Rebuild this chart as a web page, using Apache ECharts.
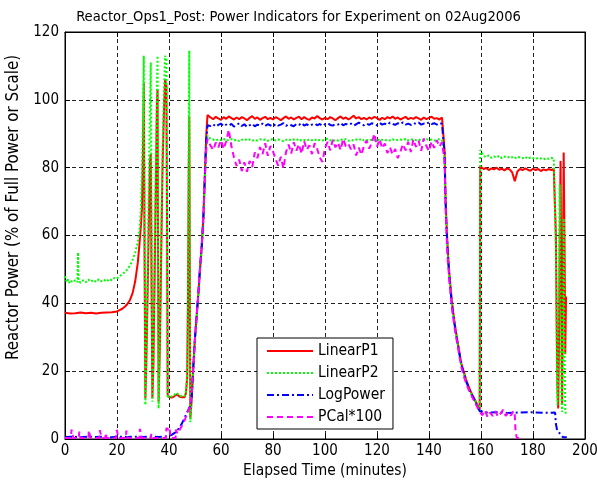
<!DOCTYPE html>
<html>
<head>
<meta charset="utf-8">
<script src="https://cdn.jsdelivr.net/npm/echarts@6/dist/echarts.min.js"></script>
<style>
html,body{margin:0;padding:0;background:#fff;}
#chart{width:597px;height:486px;}
</style>
</head>
<body>
<div id="chart"></div>
<script>
// ---------------- DATA ----------------
const titleText = "Reactor_Ops1_Post: Power Indicators for Experiment on 02Aug2006";
const xName = "Elapsed Time (minutes)";
const yName = "Reactor Power (% of Full Power or Scale)";
const seriesNames = ["LinearP1", "LinearP2", "LogPower", "PCal*100"];
const xTicks = [0, 20, 40, 60, 80, 100, 120, 140, 160, 180, 200];
const yTicks = [0, 20, 40, 60, 80, 100, 120];

// start-up + oscillation period (minutes, value)
const p1Early = [[0,37.2],[2,37.0],[4,37.1],[6,37.3],[8,37.1],[10,37.2],[12,37.0],[14,37.2],[16,37.3],[18,37.4],[20,37.6],[21,38],[22,38.4],[23,39],[24,39.8],[25,41],[26,43],[27,46.5],[28,52],[28.7,58],[29.2,63],[29.6,68],[30,85],[30.3,105],[30.6,55],[30.9,12],[31.2,20],[31.7,40],[32.2,62],[32.7,82],[33,84],[33.3,45],[33.6,12],[34,22],[34.5,50],[35,78],[35.4,100],[35.6,103],[35.8,55],[36,11],[36.5,28],[37,55],[37.5,80],[38,95],[38.5,106],[39,104],[39.3,55],[39.5,13],[40,12.4],[41,12.2],[42,12.6],[43,13.2],[44,12.5],[45,12.3],[46,12.3],[46.5,13.5],[47,18],[47.3,40],[47.6,80],[47.8,95],[48,45],[48.2,6],[48.7,11.5],[49.4,22],[50,30],[50.6,36],[51.3,43],[51.9,50],[52.6,57],[53.2,65],[53.8,78],[54.3,89],[54.8,95.5],[55,95.2]];
const p2Early = [[0,48],[0.5,46.5],[1,47.2],[1.5,46],[2,46.8],[3,46.2],[4,46.9],[4.8,46.3],[5,55],[5.2,46.5],[6,46.1],[7,46.8],[8,46.2],[9,47],[10,46.4],[11,46.9],[12,46.3],[13,47.1],[14,46.5],[15,46.9],[16,46.4],[17,47.2],[18,46.8],[19,47.5],[20,47.3],[21,48],[22,48.6],[23,49.2],[24,50],[25,51.2],[26,52.8],[27,55],[28,58],[28.7,62],[29.2,68],[29.6,78],[30,95],[30.3,113],[30.6,60],[30.9,10],[31.2,20],[31.7,45],[32.2,75],[32.7,100],[33,111],[33.3,60],[33.6,11],[34,25],[34.5,55],[35,85],[35.4,105],[35.6,113],[35.8,60],[36,9],[36.5,30],[37,60],[37.5,85],[38,100],[38.5,113],[39,112],[39.3,60],[39.5,12],[40,12.8],[41,12.5],[42,13],[43,13.6],[44,12.8],[45,12.6],[46,12.7],[46.5,14],[47,19],[47.3,45],[47.6,90],[47.8,114.5],[48,50],[48.2,5],[48.7,11],[49.4,21],[50,29],[50.6,35],[51.3,42],[51.9,49],[52.6,56],[53.2,64],[53.8,76],[54.3,86],[54.8,89.5],[55,88.8]];
const logEarly = [[0,0.6],[3,0.7],[6,0.5],[9,0.7],[12,0.6],[15,0.7],[18,0.5],[21,0.7],[24,0.6],[27,0.7],[30,0.6],[33,0.7],[36,0.6],[39,0.8],[41,1.2],[43,2.2],[45,4.6],[46.8,7.6],[48,9.5],[48.7,11.5],[49.4,22],[50,30],[50.6,36],[51.3,43],[51.9,50],[52.6,57],[53.2,65],[53.8,78],[54.3,88],[54.8,92.5],[55,92.8]];
const pcalEarly = [[0,0.3],[2.3,0.3],[2.5,2.8],[3,2.5],[3.2,0.3],[5.3,0.3],[5.5,2.2],[5.9,0.3],[9,0.3],[9.2,2.5],[9.6,2.0],[9.8,0.3],[13.2,0.3],[13.4,2.6],[13.9,2.3],[14.1,0.3],[15.5,0.3],[15.7,1.8],[16,0.3],[19.7,0.3],[19.9,2.7],[20.4,2.4],[20.6,0.3],[23.4,0.3],[23.6,2.5],[24,0.3],[28.6,0.3],[28.8,3.0],[29.3,2.6],[29.5,0.3],[33,0.3],[33.2,1.5],[33.5,0.3],[38.8,0.3],[39,3.2],[39.8,2.8],[40.2,3.4],[40.6,0.3],[42.5,0.3],[42.7,2.8],[43.2,1.6],[44,2.6],[45,4],[46,5.5],[47,7.5],[48,9.5],[48.7,12.5],[49.4,22],[50,30],[50.6,36],[51.3,43],[51.9,50],[52.6,57],[53.2,65],[53.8,77],[54.3,85],[54.8,88.5],[55,87.8]];

// full-power plateau
const plateauTime = [56,57,58,59,60,61,62,63,64,65,66,67,68,69,70,71,72,73,74,75,76,77,78,79,80,81,82,83,84,85,86,87,88,89,90,91,92,93,94,95,96,97,98,99,100,101,102,103,104,105,106,107,108,109,110,111,112,113,114,115,116,117,118,119,120,121,122,123,124,125,126,127,128,129,130,131,132,133,134,135,136,137,138,139,140,141,142,143,144,145];
const p1Plateau = [94.8,94.3,95.0,94.5,94.1,94.9,94.4,95.1,94.6,94.2,94.8,94.3,94.9,94.5,94.0,94.7,95.2,94.4,94.8,94.1,94.6,95.0,94.3,94.7,94.2,94.9,94.5,94.0,94.6,95.1,94.4,94.8,94.2,94.7,95.0,94.3,94.9,94.4,94.1,94.8,94.5,95.2,94.6,94.2,94.7,94.3,94.9,94.5,94.0,94.6,95.1,94.4,94.8,94.2,94.7,95.3,94.5,94.9,94.3,94.7,94.2,94.8,94.4,95.0,94.6,94.1,94.7,94.3,94.9,94.5,95.1,94.4,94.8,94.2,94.6,95.0,94.3,94.7,94.4,94.9,94.5,94.1,94.8,94.3,94.7,95.0,94.4,94.6,94.2,94.8];
const p2Plateau = [88.6,88.3,88.0,88.4,88.1,88.5,87.9,88.2,88.4,88.0,88.3,87.8,88.2,88.5,88.1,88.3,87.9,88.2,88.0,88.4,88.1,88.3,87.9,88.2,88.5,88.0,88.3,88.1,87.8,88.2,88.4,88.0,88.3,88.1,88.5,87.9,88.2,88.0,88.3,88.1,88.4,87.9,88.2,88.0,88.3,88.5,88.1,87.8,88.2,88.0,88.3,88.1,88.4,87.9,88.2,88.0,88.3,88.1,88.5,88.0,88.2,87.9,88.3,88.1,88.4,88.0,88.2,88.3,87.9,88.1,88.4,88.0,88.2,88.3,88.1,88.5,88.0,88.2,88.4,88.1,88.3,88.0,88.2,88.4,88.1,88.3,88.0,88.2,88.4,88.1];
const logPlateau = [92.3,92.8,92.1,92.6,93.0,92.2,92.7,92.4,92.9,92.1,92.6,93.1,92.3,92.8,92.0,92.5,92.9,92.2,92.7,92.4,93.0,92.3,92.8,92.5,92.1,92.9,92.4,92.7,93.1,92.3,92.8,92.5,92.2,92.9,92.6,93.2,92.4,92.8,92.3,92.7,93.0,92.5,92.9,92.3,92.8,93.1,92.6,92.4,92.9,92.7,93.2,92.5,92.9,92.6,93.0,92.4,92.8,93.3,92.7,92.5,93.0,92.6,93.1,92.8,92.5,93.2,92.7,93.0,92.6,93.3,92.9,92.6,93.1,92.8,93.4,92.7,93.0,92.6,93.2,92.9,93.3,92.7,93.0,92.8,93.4,92.9,93.1,92.7,93.2,92.9];
const pcalPlateau = [86.5,85.2,87.4,86.0,88.1,85.5,87.8,91.2,86.3,83.0,80.5,82.4,79.0,81.6,78.8,82.0,80.2,84.5,82.8,86.1,84.0,87.2,83.5,86.4,84.8,82.5,80.6,83.2,79.8,84.6,86.8,84.2,87.5,85.0,86.9,84.1,87.8,85.3,86.6,84.0,87.2,85.5,83.0,81.7,85.8,87.6,85.1,88.2,86.0,87.4,85.2,88.5,86.3,87.0,85.4,86.8,83.6,85.9,83.8,86.5,88.0,85.6,87.3,90.0,86.2,88.4,85.7,87.1,84.3,86.0,83.9,85.5,82.8,84.7,86.9,85.1,87.6,84.6,88.3,86.1,87.9,85.0,88.6,86.4,84.9,87.7,85.8,88.1,86.2,87.5];

// shutdown decay
const decayTime = [145.5,146,146.3,146.7,147.2,147.8,148.5,149.2,150,150.8,151.6,152.5,153.5,154.5,155.5,156.5,157.5,158.5,159.5];
const p1Decay = [94.5,85,73,64,56,49,43,38,33.5,29.5,26,22,19.5,17,15,13.2,11.8,10.2,8.5];
const p2Decay = [88.2,83,71,63,55,48,42,37,33,29,25.5,21.5,19,16.5,14.5,13,11.5,10,8.3];
const logDecay = [93,84,72,63,55,48,42,37,33,29,25.5,21.8,19,16.6,14.6,13,11.5,9.8,8.2];
const pcalDecay = [87.5,82,70,61,53,47,41,36.5,32,28.5,24.8,21,18.2,16,14,12.5,11,9.5,8];

// late period
const lateTime = [160,161,162,163,164,165,166,167,168,169,170,171,172,173,174,175,176,177,178,179,180,181,182,183,184,185,186,187];
const p1Late = [80.1,79.6,79.9,79.3,79.8,79.5,80.0,79.4,79.7,79.2,79.8,79.5,78.6,76.0,78.9,79.6,79.3,79.8,79.4,79.1,79.7,79.3,79.6,79.0,79.5,79.2,79.6,79.3];
const p2Late = [85.0,83.4,83.1,83.6,82.9,83.3,83.0,83.5,82.8,83.2,83.4,82.9,83.1,82.7,83.3,83.0,82.8,83.2,82.6,83.0,82.8,82.5,82.9,82.7,82.4,82.8,82.6,82.9];
const p1Jump = [[159.7,80.4]];
const p2Jump = [[159.7,85.2]];
const p1End = [[188,79.6],[188.5,79.8],[188.8,60],[189.1,35],[189.4,15],[189.7,9],[190,30],[190.3,60],[190.6,82],[190.9,40],[191.2,10],[191.5,50],[191.8,84.5],[192.1,60],[192.4,25],[192.7,42]];
const p2End = [[188,82.7],[188.5,82.3],[188.8,55],[189.1,25],[189.4,10],[189.7,20],[190,50],[190.3,75],[190.6,45],[190.9,12],[191.2,8],[191.5,35],[191.8,65],[192.1,30],[192.4,8],[192.7,7.5]];
const logLate = [[159.6,8],[162,7.8],[166,7.9],[170,7.7],[175,7.8],[180,7.9],[184,7.7],[188.5,7.8],[188.8,4.5],[189.3,2.5],[190.5,1.5],[191.6,0.5],[193,0.5]];
const pcalLate = [[159.6,8],[160.5,7],[161.5,8.5],[162.5,6.5],[163.5,7.8],[164.5,6.8],[165.5,8.2],[166.5,6.6],[167.5,7.5],[168.5,8.6],[169.5,6.8],[170.5,7.9],[171.5,6.9],[172.5,8.3],[173,7],[173.3,2],[173.8,0.3],[175,0.3]];

// ---------------- BUILD ----------------
function zip(t, v) { return t.map((x, i) => [x, v[i]]); }
const p1Data = [].concat(p1Early, zip(plateauTime, p1Plateau), zip(decayTime, p1Decay), p1Jump, zip(lateTime, p1Late), p1End);
const p2Data = [].concat(p2Early, zip(plateauTime, p2Plateau), zip(decayTime, p2Decay), p2Jump, zip(lateTime, p2Late), p2End);
const logData = [].concat(logEarly, zip(plateauTime, logPlateau), zip(decayTime, logDecay), logLate);
const pcalData = [].concat(pcalEarly, zip(plateauTime, pcalPlateau), zip(decayTime, pcalDecay), pcalLate);

const FONT = "'DejaVu Sans Condensed', 'Liberation Sans', sans-serif";
const black = "#000";
function lineSeries(name, data, color, type) {
  return {
    name: name, type: "line", data: data, symbol: "none", showSymbol: false,
    xAxisIndex: 0, yAxisIndex: 0,
    lineStyle: { color: color, width: 2, type: type },
    itemStyle: { color: color },
    emphasis: { disabled: true }, animation: false
  };
}
function mkAxisCommon() {
  return {
    axisLine: { show: true, onZero: false, lineStyle: { color: black, width: 1 } },
    axisTick: { show: true, inside: true, length: 5, lineStyle: { color: black } }
  };
}

const chart = echarts.init(document.getElementById("chart"), null, { renderer: "canvas" });
chart.setOption({
  animation: false,
  backgroundColor: "#fff",
  title: {
    text: titleText, left: "center", top: 5,
    textStyle: { fontFamily: FONT, fontSize: 14.6, fontWeight: "normal", color: black }
  },
  grid: { left: 65, right: 12, top: 32, bottom: 47, show: true, borderColor: black, borderWidth: 1, backgroundColor: "#fff", containLabel: false, outerBoundsMode: "none" },
  legend: {
    data: seriesNames, orient: "vertical", left: 257, top: 338,
    itemWidth: 46, itemHeight: 16, itemGap: 6,
    padding: [5, 8, 4, 9],
    backgroundColor: "#fff", borderColor: black, borderWidth: 1, borderRadius: 0,
    itemStyle: { opacity: 0 },
    textStyle: { fontFamily: FONT, fontSize: 15.5, color: black },
    selectedMode: false
  },
  xAxis: [
    Object.assign(mkAxisCommon(), {
      type: "value", min: xTicks[0], max: xTicks[xTicks.length - 1], interval: 20, position: "bottom",
      axisLabel: { color: black, fontFamily: FONT, fontSize: 15, margin: 5 },
      splitLine: { show: true, lineStyle: { color: "#222", type: [4, 3], width: 1 } },
      name: xName, nameLocation: "middle", nameGap: 23,
      nameTextStyle: { fontFamily: FONT, fontSize: 15.4, color: black }
    }),
    Object.assign(mkAxisCommon(), {
      type: "value", min: xTicks[0], max: xTicks[xTicks.length - 1], interval: 20, position: "top",
      axisLabel: { show: false }, splitLine: { show: false }
    })
  ],
  yAxis: [
    Object.assign(mkAxisCommon(), {
      type: "value", min: yTicks[0], max: yTicks[yTicks.length - 1], interval: 20, position: "left",
      axisLabel: { color: black, fontFamily: FONT, fontSize: 15, margin: 6 },
      splitLine: { show: true, lineStyle: { color: "#222", type: [4, 3], width: 1 } },
      name: yName, nameLocation: "middle", nameGap: 34,
      nameTextStyle: { fontFamily: FONT, fontSize: 16.8, color: black, padding: [0, 0, 0, 56] }
    }),
    Object.assign(mkAxisCommon(), {
      type: "value", min: yTicks[0], max: yTicks[yTicks.length - 1], interval: 20, position: "right",
      axisLabel: { show: false }, splitLine: { show: false }
    })
  ],
  series: [
    lineSeries(seriesNames[0], p1Data, "#ff0000", "solid"),
    lineSeries(seriesNames[1], p2Data, "#00ff00", [2, 2]),
    lineSeries(seriesNames[2], logData, "#0000ff", [7, 3, 2, 3]),
    lineSeries(seriesNames[3], pcalData, "#ff00ff", [6, 4])
  ]
});
</script>
</body>
</html>
